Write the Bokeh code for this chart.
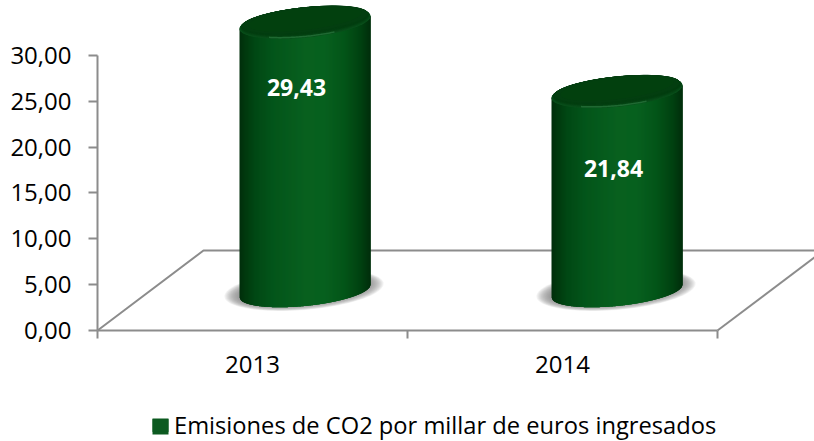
import numpy as np
from bokeh.embed import file_html
from bokeh.resources import INLINE
from bokeh.plotting import figure
from bokeh.core.properties import value
from bokeh.models import FixedTicker, Legend, LegendItem

# ---- data
categories = ["2013", "2014"]
emissions = [29.43, 21.84]
emission_labels = ["29,43", "21,84"]
y_ticks = [0, 5, 10, 15, 20, 25, 30]
y_tick_labels = ["0,00", "5,00", "10,00", "15,00", "20,00", "25,00", "30,00"]
series_name = "Emisiones de CO2 por millar de euros ingresados"

# ---- layout: one category = 310 px, one value unit = 9.167 px
PX_X, PX_Y = 310.0, 9.167
W, H = 814, 441
X0, Y0 = 97, 330                  # pixel of data origin inside the figure
x_range = (-X0 / PX_X, (W - X0) / PX_X)
y_range = ((Y0 - H) / PX_Y, Y0 / PX_Y)

def dx(px): return px / PX_X
def dy(px): return px / PX_Y

GREY = "#8c8c8c"
FONT = "Open Sans"
DEPTH_X, DEPTH_Y = dx(106), dy(80)
BASE_Y = dy(39.5)                 # height of a column's base centre on the floor
DEPTH_SCALE = 0.995               # columns stand further back than the axis
COL_DX = [dx(52.5), dx(54.5)]     # column centre relative to category centre
A = dx(65.5)                      # half width of a column
TILT, B = dy(6.3), dy(15)         # ellipse tilt and half height
LABEL_DROP = [dy(64.5), dy(77)]
LABEL_DX = [dx(-8.5), dx(-3.5)]

p = figure(width=W, height=H, output_backend="svg", toolbar_location=None,
           x_range=x_range, y_range=y_range, min_border=0,
           background_fill_color="white", border_fill_color="white",
           outline_line_color=None)
p.grid.visible = False

# ---- axes
xa, ya = p.xaxis[0], p.yaxis[0]
xa.fixed_location = 0
ya.fixed_location = 0
for ax in (xa, ya):
    ax.axis_line_color = GREY
    ax.axis_line_width = 2
    ax.major_label_text_font = FONT
    ax.major_label_text_color = "#000000"
    ax.major_label_text_font_size = "24px"
xa.bounds = (0, 2)
ya.bounds = (0, 30)
xa.ticker = FixedTicker(ticks=[0.5, 1.5], minor_ticks=[0, 1, 2])
xa.major_label_overrides = {0.5: categories[0], 1.5: categories[1]}
xa.major_tick_line_color = None
xa.minor_tick_line_color = GREY
xa.minor_tick_line_width = 2
xa.minor_tick_in = 0
xa.minor_tick_out = 8
xa.major_label_standoff = 17
ya.ticker = FixedTicker(ticks=y_ticks)
ya.major_label_overrides = dict(zip(y_ticks, y_tick_labels))
ya.major_tick_line_color = GREY
ya.major_tick_line_width = 2
ya.major_tick_in = 0
ya.major_tick_out = 9
ya.minor_tick_line_color = None
ya.major_label_standoff = 17

# ---- floor
p.line([0, DEPTH_X, x_range[1] + dx(10)], [0, DEPTH_Y, DEPTH_Y], line_color=GREY, line_width=2)
p.line([2, 2 + DEPTH_X], [0, DEPTH_Y], line_color=GREY, line_width=2)

# ---- cylinders
STOPS_T = [0, .05, .12, .25, .5, .65, .8, .92, 1]
STOPS_RGB = np.array([[0, 46, 11], [0, 58, 14], [1, 72, 20], [3, 85, 26], [8, 96, 31],
                      [7, 96, 31], [3, 85, 24], [1, 66, 17], [0, 46, 11]], float)

def grad(t):
    c = [np.interp(t, STOPS_T, STOPS_RGB[:, i]) for i in range(3)]
    return "#%02x%02x%02x" % tuple(int(round(v)) for v in c)

def mix(c0, c1, t):
    c = (1 - t) * np.array(c0, float) + t * np.array(c1, float)
    return "#%02x%02x%02x" % tuple(int(round(v)) for v in c)

def ellipse(cx, cy, a, b, tilt, n=90):
    th = np.linspace(0, 2 * np.pi, n)
    return cx + a * np.cos(th), cy + tilt * np.cos(th) + b * np.sin(th)

def front(s, cy):
    c = np.clip(s / A, -1, 1)
    return cy + TILT * c - B * np.sqrt(1 - c ** 2)

for i, v in enumerate(emissions):
    cx = i + 0.5 + COL_DX[i]
    top = BASE_Y + v * DEPTH_SCALE

    # soft shadow on the floor
    for k in range(12):
        grow = 1 - k / 12
        sx, sy = ellipse(cx - dx(1), BASE_Y + dy(1), A + dx(14) * grow, B + dy(5) * grow, TILT)
        p.patch(sx, sy, fill_color="#808080", fill_alpha=0.1, line_color=None)

    # body: overlapping vertical strips carrying the horizontal gradient,
    # each running on under the next one so that no white shows at the seams
    edges = np.linspace(-A, A, 132)
    xs, ys, cols = [], [], []
    for e0, e1 in zip(edges[:-1], edges[1:]):
        e2 = min(e1 + dx(2), A)
        mid = np.linspace(e0, e2, 5)
        xs.append([cx + e0, cx + e2] + (cx + mid[::-1]).tolist())
        ys.append([top + TILT * e0 / A, top + TILT * e2 / A] + front(mid[::-1], BASE_Y).tolist())
        cols.append(grad(((e0 + e1) / 2 + A) / (2 * A)))
    p.patches(xs, ys, fill_color=cols, fill_alpha=1, line_color=None)

    # cap: bevel rim then a darker inner face
    N = 12
    xs, ys, cols = [], [], []
    for k in range(N):
        f = k / (N - 1)
        sx, sy = ellipse(cx, top + dy(3.0) * f, A * (1 - 0.045 * f), B * (1 - 0.17 * f), TILT)
        xs.append(sx.tolist()); ys.append(sy.tolist())
        cols.append(mix((10, 80, 28), (3, 62, 16), min(1, f * 1.6)))
    p.patches(xs, ys, fill_color=cols, fill_alpha=1, line_color=None)
    sx, sy = ellipse(cx, top + dy(3.5), A * 0.86, B * 0.72, TILT)
    p.patch(sx, sy, fill_color="#03420e", fill_alpha=0.7, line_color=None)

    # highlight along the front of the rim
    arc = np.linspace(-0.55, 0.45, 40)
    p.line(cx + A * arc, top + TILT * arc - B * np.sqrt(1 - arc ** 2) + dy(1.2),
           line_color="#3f9155", line_alpha=0.45, line_width=1.5)

    # data label
    p.text([i + 0.5 + COL_DX[i] + LABEL_DX[i]], [top - LABEL_DROP[i]], text=[emission_labels[i]],
           text_font=value(FONT), text_font_style="bold", text_font_size="23px",
           text_color="white", text_align="center", text_baseline="middle")

# ---- legend
sw_x, sw_y = dx(152 - 97), dy(330 - 434)
sw_w, sw_h = dx(16), dy(16)
swatch = p.quad(left=[sw_x], right=[sw_x + sw_w], bottom=[sw_y], top=[sw_y + sw_h],
                fill_color="#0c5a20", fill_alpha=1, line_color=None)
p.patch([sw_x + dx(1), sw_x + sw_w - dx(1), sw_x + sw_w / 2],
        [sw_y + sw_h - dy(2), sw_y + sw_h - dy(2), sw_y + dy(5)],
        fill_color="#2f8f48", line_color=None, level="overlay")
legend = Legend(items=[LegendItem(label=value(series_name), renderers=[swatch])],
                location=(150, 0), orientation="horizontal",
                background_fill_alpha=0, border_line_color=None,
                padding=0, margin=0, spacing=0,
                glyph_width=20, glyph_height=16, label_height=20, label_standoff=4,
                label_text_font=FONT, label_text_font_size="23.7px", label_text_color="#000000",
                label_text_baseline="middle")
p.add_layout(legend, "center")

open("out.html", "w").write(file_html(p, INLINE))
